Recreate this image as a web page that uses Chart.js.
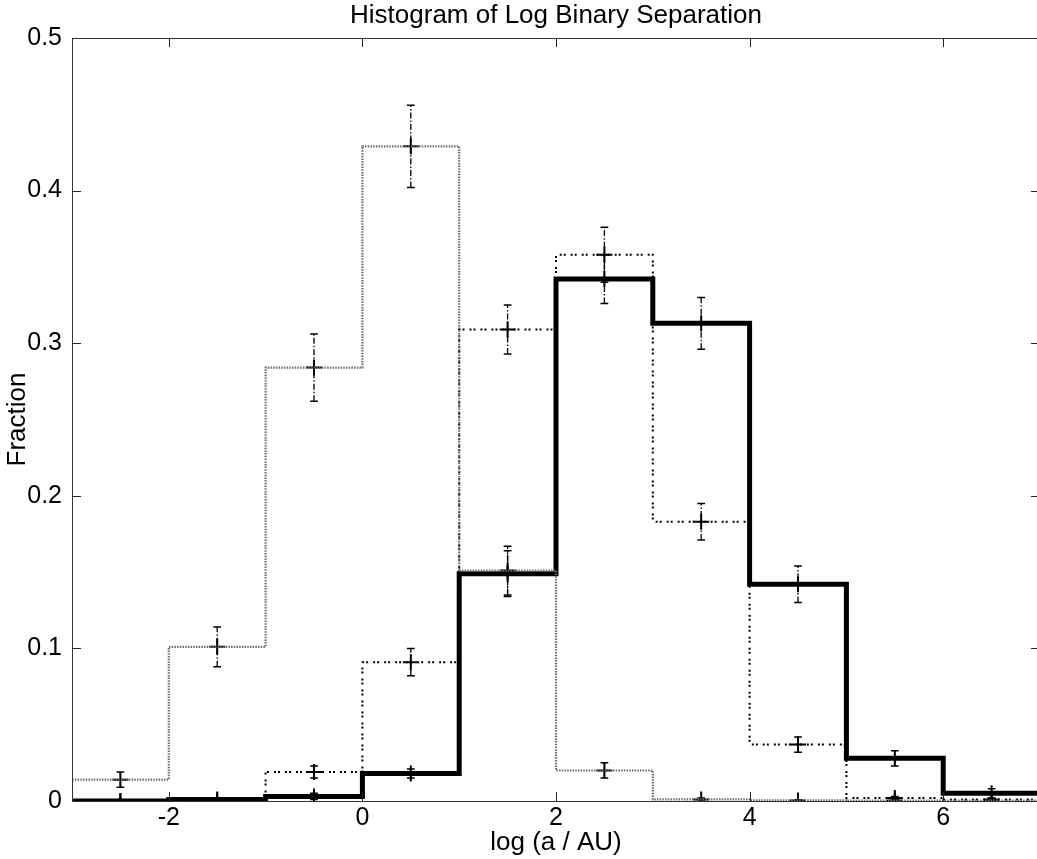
<!DOCTYPE html>
<html>
<head>
<meta charset="utf-8">
<script src="https://cdn.jsdelivr.net/npm/chart.js@4/dist/chart.umd.min.js"></script>
<style>
html,body{margin:0;padding:0;background:#fff;overflow:hidden;}
#wrap{width:1037px;height:859px;overflow:hidden;}
</style>
</head>
<body>
<div id="wrap"><canvas id="c" width="1050" height="859"></canvas></div>
<script>
// Bin edges and centres (log a / AU)
const binEdges = [-3, -2, -1, 0, 1, 2, 3, 4, 5, 6, 7];
const binCenters = [-2.5, -1.5, -0.5, 0.5, 1.5, 2.5, 3.5, 4.5, 5.5, 6.5];

// Series 1: thin grey dotted
const greyValues = [0.014, 0.101, 0.284, 0.429, 0.151, 0.020, 0.001, 0.0004, 0.0003, 0.0003];
const greyErrors = [0.005, 0.013, 0.022, 0.027, 0.016, 0.005, 0.001, 0.0005, 0.0005, 0.0005];

// Series 2: black dotted
const dotValues = [0.0, 0.0005, 0.019, 0.091, 0.309, 0.358, 0.183, 0.037, 0.002, 0.001];
const dotErrors = [0.0005, 0.001, 0.004, 0.009, 0.016, 0.018, 0.012, 0.005, 0.001, 0.001];

// Series 3: thick solid black
const solidValues = [0.0, 0.001, 0.003, 0.018, 0.149, 0.342, 0.313, 0.142, 0.028, 0.005];
const solidErrors = [0.001, 0.001, 0.002, 0.003, 0.015, 0.016, 0.017, 0.012, 0.005, 0.003];

const xTicks = [-2, 0, 2, 4, 6];
const yTicks = [0, 0.1, 0.2, 0.3, 0.4, 0.5];

const CAP = 0.04; // half-width of error-bar caps in x units

function stairs(values) {
  const pts = [{x: binEdges[0], y: 0}];
  values.forEach((v, i) => pts.push({x: binEdges[i + 1], y: v}));
  return pts;
}
function errBars(values, errors) {
  const pts = [];
  values.forEach((v, i) => {
    pts.push({x: binCenters[i], y: v - errors[i]});
    pts.push({x: binCenters[i], y: v + errors[i]});
    pts.push({x: binCenters[i], y: null});
  });
  return pts;
}
function errCaps(values, errors) {
  const pts = [];
  values.forEach((v, i) => {
    [v - errors[i], v + errors[i]].forEach(y => {
      pts.push({x: binCenters[i] - CAP, y: y});
      pts.push({x: binCenters[i] + CAP, y: y});
      pts.push({x: binCenters[i], y: null});
    });
  });
  return pts;
}
function centres(values) {
  return values.map((v, i) => ({x: binCenters[i], y: v}));
}

const datasets = [];
function addSeries(values, errors, style) {
  datasets.push(Object.assign({
    data: stairs(values), stepped: 'after', pointRadius: 0, fill: false
  }, style));
  datasets.push({
    data: errBars(values, errors), borderColor: '#000', borderWidth: 1.3,
    borderDash: [6, 2, 1.5, 2], pointRadius: 0, spanGaps: false, fill: false
  });
  datasets.push({
    data: errCaps(values, errors), borderColor: '#000', borderWidth: 1.5,
    pointRadius: 0, spanGaps: false, fill: false
  });
  datasets.push({
    data: centres(values), showLine: false, pointStyle: 'cross', pointRadius: 8,
    pointBorderWidth: 2, pointBorderColor: '#000', pointBackgroundColor: '#000'
  });
}
addSeries(greyValues, greyErrors, {borderColor: '#6e6e6e', borderWidth: 2.2, borderDash: [1.5, 1.2]});
addSeries(dotValues, dotErrors, {borderColor: '#000', borderWidth: 2, borderDash: [2, 2, 2, 5]});
addSeries(solidValues, solidErrors, {borderColor: '#000', borderWidth: 5, borderCapStyle: 'square', borderJoinStyle: 'miter'});

const framePlugin = {
  id: 'frame',
  afterDraw(chart) {
    const {ctx, chartArea: a, scales} = chart;
    ctx.save();
    ctx.strokeStyle = '#222';
    ctx.lineWidth = 1;
    const L = 9;
    ctx.beginPath();
    xTicks.forEach(t => {
      const px = Math.round(scales.x.getPixelForValue(t)) + 0.5;
      ctx.moveTo(px, a.bottom); ctx.lineTo(px, a.bottom - L);
      ctx.moveTo(px, a.top); ctx.lineTo(px, a.top + L);
    });
    yTicks.forEach(t => {
      const py = Math.round(scales.y.getPixelForValue(t)) + 0.5;
      ctx.moveTo(a.left, py); ctx.lineTo(a.left + L, py);
      ctx.moveTo(a.right, py); ctx.lineTo(a.right - L, py);
    });
    ctx.stroke();
    ctx.strokeStyle = '#333';
    ctx.strokeRect(Math.round(a.left) + 0.5, Math.round(a.top) + 0.5,
                   Math.round(a.right - a.left) - 1, Math.round(a.bottom - a.top));
    ctx.restore();
  }
};

const FONT = 'Liberation Sans, Arial, Helvetica, sans-serif';
const noPad = s => { s.paddingLeft = 0; s.paddingRight = 0; };
new Chart(document.getElementById('c'), {
  type: 'line',
  data: {datasets},
  plugins: [framePlugin],
  options: {
    responsive: false,
    animation: false,
    devicePixelRatio: 1,
    layout: {padding: 0},
    plugins: {
      legend: {display: false},
      tooltip: {enabled: false},
      title: {display: false}
    },
    scales: {
      x: {
        type: 'linear', min: -3, max: 7,
        grid: {display: false, drawTicks: false}, border: {display: false},
        afterBuildTicks: s => { s.ticks = xTicks.map(v => ({value: v})); },
        afterFit: s => { s.height = 58; noPad(s); },
        ticks: {color: '#000', font: {family: FONT, size: 25}, padding: 2, maxRotation: 0,
                callback: v => String(v)},
        title: {display: true, text: 'log (a / AU)', color: '#000',
                font: {family: FONT, size: 26}, padding: {top: 0, bottom: 1}}
      },
      xTop: {
        type: 'linear', position: 'top', min: -3, max: 7,
        grid: {display: false, drawTicks: false}, border: {display: false},
        ticks: {display: false},
        afterFit: s => { s.height = 38; noPad(s); },
        title: {display: true, text: 'Histogram of Log Binary Separation', color: '#000',
                font: {family: FONT, size: 26}, padding: {top: 0, bottom: 0}}
      },
      y: {
        type: 'linear', min: 0, max: 0.5,
        grid: {display: false, drawTicks: false}, border: {display: false},
        afterBuildTicks: s => { s.ticks = yTicks.map(v => ({value: v})); },
        afterFit: s => { s.width = 72; },
        ticks: {color: '#000', font: {family: FONT, size: 25}, padding: 10,
                callback: v => String(+v.toFixed(1))},
        title: {display: true, text: 'Fraction', color: '#000',
                font: {family: FONT, size: 26}, padding: {top: 2, bottom: 0}}
      }
    }
  }
});
</script>
</body>
</html>
